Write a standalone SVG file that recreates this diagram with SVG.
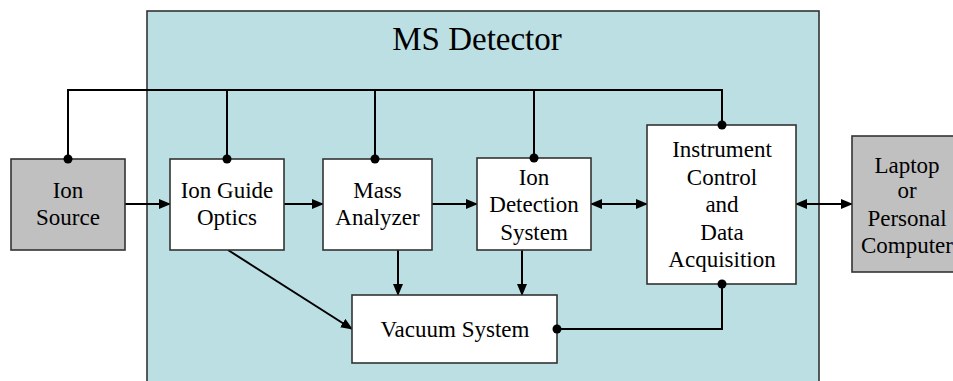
<svg xmlns="http://www.w3.org/2000/svg" width="953" height="381" viewBox="0 0 953 381">
<defs>
<marker id="ah" markerWidth="12" markerHeight="10" refX="11" refY="5" orient="auto-start-reverse" markerUnits="userSpaceOnUse">
<path d="M0,0 L12,5 L0,10 Z" fill="#000"/>
</marker>
</defs>
<style>
.box{fill:#fff;stroke:#333;stroke-width:1.6}
.gray{fill:#c0c0c0;stroke:#333;stroke-width:1.6}
text{font-family:'Liberation Serif','Times New Roman','DejaVu Serif',serif;font-size:23px;fill:#000;text-anchor:middle}
text.title{font-size:33px}
.c{fill:none;stroke:#000;stroke-width:2}
.a{fill:none;stroke:#000;stroke-width:2;marker-end:url(#ah)}
.b{fill:none;stroke:#000;stroke-width:2;marker-end:url(#ah);marker-start:url(#ah)}
.dot{fill:#000}
</style>
<rect width="953" height="381" fill="#fff"/>
<g id="ms-detector">
<rect x="147" y="11" width="672" height="380" fill="#bbdfe2" stroke="#333" stroke-width="1.6"/>
<text class="title" x="477" y="50">MS Detector</text>
</g>
<g id="connectors">
<path class="c" d="M68,159 V90 H722 V125 M227,90 V159 M375,90 V159 M534,90 V158"/>
<path class="c" d="M557,329 H722 V284"/>
<path class="a" d="M125,204 H170"/>
<path class="a" d="M284,204 H323"/>
<path class="a" d="M432,204 H477"/>
<path class="b" d="M591,204 H647"/>
<path class="b" d="M796,204 H852"/>
<path class="a" d="M398,250 V295"/>
<path class="a" d="M522,250 V295"/>
<path class="a" d="M228,250 L352,329"/>
</g>
<g id="ion-source">
<rect class="gray" x="11" y="159" width="114" height="91"/>
<text x="68" y="198">Ion</text>
<text x="68" y="225">Source</text>
</g>
<g id="ion-guide-optics">
<rect class="box" x="170" y="159" width="114" height="91"/>
<text x="227" y="198">Ion Guide</text>
<text x="227" y="225">Optics</text>
</g>
<g id="mass-analyzer">
<rect class="box" x="323" y="159" width="109" height="91"/>
<text x="377.5" y="198">Mass</text>
<text x="377.5" y="225">Analyzer</text>
</g>
<g id="ion-detection-system">
<rect class="box" x="477" y="158" width="114" height="92"/>
<text x="534" y="185">Ion</text>
<text x="534" y="212">Detection</text>
<text x="534" y="240">System</text>
</g>
<g id="instrument-control">
<rect class="box" x="647" y="125" width="149" height="159"/>
<text x="722" y="157">Instrument</text>
<text x="722" y="185">Control</text>
<text x="722" y="212">and</text>
<text x="722" y="240">Data</text>
<text x="722" y="267">Acquisition</text>
</g>
<g id="laptop">
<rect class="gray" x="852" y="136" width="110" height="136"/>
<text x="907" y="173">Laptop</text>
<text x="907" y="198">or</text>
<text x="907" y="226">Personal</text>
<text x="907" y="253">Computer</text>
</g>
<g id="vacuum-system">
<rect class="box" x="352" y="295" width="205" height="68"/>
<text x="455" y="337">Vacuum System</text>
</g>
<g id="dots">
<circle class="dot" cx="68" cy="159" r="4.5"/>
<circle class="dot" cx="227" cy="159" r="4.5"/>
<circle class="dot" cx="375" cy="159" r="4.5"/>
<circle class="dot" cx="534" cy="158" r="4.5"/>
<circle class="dot" cx="722" cy="125" r="4.5"/>
<circle class="dot" cx="722" cy="284" r="4.5"/>
<circle class="dot" cx="557" cy="329" r="4.5"/>
</g>
</svg>
